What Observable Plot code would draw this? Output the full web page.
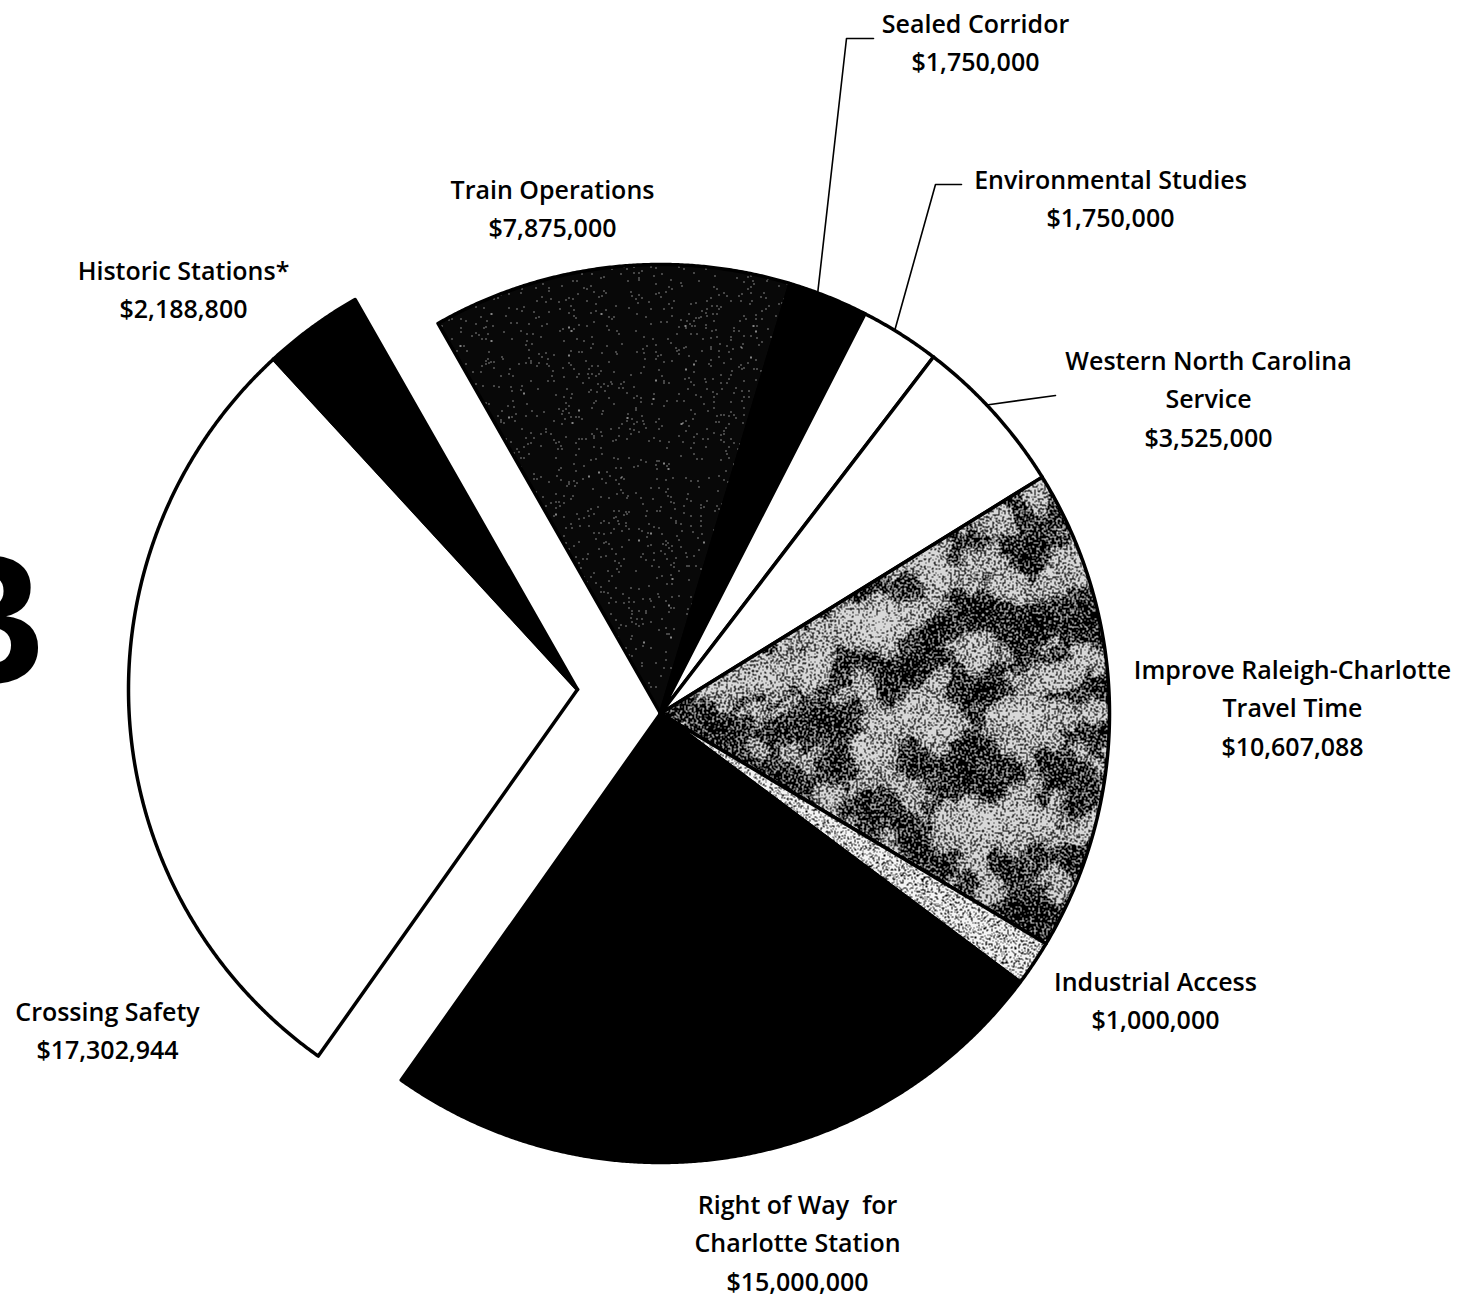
<!DOCTYPE html>
<html>
<head>
<meta charset="utf-8">
<script src="https://cdn.jsdelivr.net/npm/d3@7"></script>
<script src="https://cdn.jsdelivr.net/npm/@observablehq/plot@0.6"></script>
<style>
  html, body { margin: 0; padding: 0; background: #fff; }
  #chart svg { display: block; }
</style>
</head>
<body>
<svg width="0" height="0" style="position:absolute;left:0;top:0" aria-hidden="true">
  <defs>
    <filter id="fGray" x="0" y="0" width="1" height="1" color-interpolation-filters="sRGB">
      <feTurbulence type="fractalNoise" baseFrequency="0.5" numOctaves="2" seed="3" result="fine0"/>
      <feColorMatrix in="fine0" type="matrix" values="1 0 0 0 0  1 0 0 0 0  1 0 0 0 0  0 0 0 0 1" result="fine"/>
      <feTurbulence type="fractalNoise" baseFrequency="0.02" numOctaves="3" seed="8" result="coarse0"/>
      <feColorMatrix in="coarse0" type="matrix" values="1 0 0 0 0  1 0 0 0 0  1 0 0 0 0  0 0 0 0 1" result="coarse"/>
      <feComposite in="fine" in2="coarse" operator="arithmetic" k1="0" k2="1" k3="0.4" k4="-0.2" result="mix"/>
      <feColorMatrix in="mix" type="matrix" values="0 0 0 0 0  0 0 0 0 0  0 0 0 0 0  1 0 0 0 0" result="a"/>
      <feComponentTransfer in="a">
        <feFuncA type="discrete" tableValues="0 0 0 0 0 0 0 0 0 0 1 1 1 1 1 1 1 1 1 1"/>
      </feComponentTransfer>
    </filter>
    <filter id="fLight" x="0" y="0" width="1" height="1" color-interpolation-filters="sRGB">
      <feTurbulence type="fractalNoise" baseFrequency="0.55" numOctaves="2" seed="5" result="n"/>
      <feColorMatrix in="n" type="matrix" values="0 0 0 0 0  0 0 0 0 0  0 0 0 0 0  1 0 0 0 0" result="a"/>
      <feComponentTransfer in="a">
        <feFuncA type="discrete" tableValues="0 0 0 0 0 0 0 0 0 0 0 0 1 1 1 1 1 1 1 1"/>
      </feComponentTransfer>
    </filter>
    <filter id="fSpeck" x="0" y="0" width="1" height="1" color-interpolation-filters="sRGB">
      <feTurbulence type="fractalNoise" baseFrequency="0.6" numOctaves="2" seed="9" result="n"/>
      <feColorMatrix in="n" type="matrix" values="0 0 0 0 1  0 0 0 0 1  0 0 0 0 1  1 0 0 0 0" result="a"/>
      <feComponentTransfer in="a">
        <feFuncA type="discrete" tableValues="0 0 0 0 0 0 0 0 0 0 0 0 0 0 0 1 1 1 1 1"/>
      </feComponentTransfer>
    </filter>
    <pattern id="pGray" patternUnits="userSpaceOnUse" x="0" y="0" width="1480" height="1299">
      <rect width="1480" height="1299" fill="#d8d8d8"/>
      <rect width="1480" height="1299" fill="#000" filter="url(#fGray)"/>
    </pattern>
    <pattern id="pLight" patternUnits="userSpaceOnUse" x="0" y="0" width="1480" height="1299">
      <rect width="1480" height="1299" fill="#f4f4f4"/>
      <rect width="1480" height="1299" fill="#000" filter="url(#fLight)"/>
    </pattern>
    <pattern id="pTrain" patternUnits="userSpaceOnUse" x="0" y="0" width="1480" height="1299">
      <rect width="1480" height="1299" fill="#080808"/>
      <rect width="1480" height="1299" fill="#fff" filter="url(#fSpeck)"/>
    </pattern>
  </defs>
</svg>
<div id="chart"></div>
<script>
// ---------------- DATA ----------------
const categories = [
  "Train Operations",
  "Sealed Corridor",
  "Environmental Studies",
  "Western North Carolina Service",
  "Improve Raleigh-Charlotte Travel Time",
  "Industrial Access",
  "Right of Way for Charlotte Station",
  "Crossing Safety",
  "Historic Stations*"
];
const amounts = [7875000, 1750000, 1750000, 3525000, 10607088, 1000000, 15000000, 17302944, 2188800];
const labelLines = [
  ["Train Operations"],
  ["Sealed Corridor"],
  ["Environmental Studies"],
  ["Western North Carolina", "Service"],
  ["Improve Raleigh-Charlotte", "Travel Time"],
  ["Industrial Access"],
  ["Right of Way  for", "Charlotte Station"],
  ["Crossing Safety"],
  ["Historic Stations*"]
];
const explodedSlices = ["Crossing Safety", "Historic Stations*"];

// ---------------- LAYOUT / STYLE ----------------
const W = 1480, H = 1299;
const CX = 660, CY = 713, R = 449;
const START = -29.7 * Math.PI / 180;
const EXPLODE = [-83, -24];
const FONT = "Open Sans";
const FONT_SIZE = 25;
const FONT_WEIGHT = 600;
const LINE = 38.5;
const fills = {
  "Train Operations": "url(#pTrain)",
  "Sealed Corridor": "#000",
  "Environmental Studies": "#fff",
  "Western North Carolina Service": "#fff",
  "Improve Raleigh-Charlotte Travel Time": "url(#pGray)",
  "Industrial Access": "url(#pLight)",
  "Right of Way for Charlotte Station": "#000",
  "Crossing Safety": "#fff",
  "Historic Stations*": "#000"
};
// label anchor: [center x, first baseline y]
const labelPos = {
  "Train Operations": [552, 198],
  "Sealed Corridor": [975, 32],
  "Environmental Studies": [1110, 188],
  "Western North Carolina Service": [1208, 369],
  "Improve Raleigh-Charlotte Travel Time": [1292, 678],
  "Industrial Access": [1155, 990],
  "Right of Way for Charlotte Station": [797, 1213],
  "Crossing Safety": [107, 1020],
  "Historic Stations*": [183, 279]
};
// leader lines: fraction along the slice's arc, then elbow points
const leaders = [
  {key: "Sealed Corridor", frac: 0.36, pts: [[846, 38], [873, 38]]},
  {key: "Environmental Studies", frac: 0.42, pts: [[935, 184], [961, 184]]},
  {key: "Western North Carolina Service", frac: 0.44, pts: [[1055, 395]]}
];

// ---------------- BUILD ----------------
const table = categories.map((c, i) => ({key: c, amount: amounts[i]}));
const arcs = d3.pie().sort(null).value(d => d.amount)
  .startAngle(START).endAngle(START + 2 * Math.PI)(table);
const arcByKey = new Map(arcs.map(a => [a.data.key, a]));

const STEP = Math.PI / 720;
function slicePoints(a) {
  const [ox, oy] = explodedSlices.includes(a.data.key) ? EXPLODE : [0, 0];
  const cx = CX + ox, cy = CY + oy;
  const n = Math.max(2, Math.ceil((a.endAngle - a.startAngle) / STEP));
  const pts = [{x: cx, y: cy}];
  for (let k = 0; k <= n; k++) {
    const t = a.startAngle + (a.endAngle - a.startAngle) * k / n;
    pts.push({x: cx + R * Math.sin(t), y: cy - R * Math.cos(t)});
  }
  pts.push({x: cx, y: cy});
  return pts;
}

const sliceMarks = arcs.map(a => Plot.line(slicePoints(a), {
  x: "x", y: "y",
  fill: fills[a.data.key],
  stroke: "#000",
  strokeWidth: 3.5,
  strokeLinejoin: "round"
}));

const leaderData = leaders.flatMap(l => {
  const a = arcByKey.get(l.key);
  const t = a.startAngle + (a.endAngle - a.startAngle) * l.frac;
  const first = {key: l.key, x: CX + R * Math.sin(t), y: CY - R * Math.cos(t)};
  return [first, ...l.pts.map(([x, y]) => ({key: l.key, x, y}))];
});

const fmt = d3.format(",");
const textData = categories.flatMap((c, i) => {
  const lines = [...labelLines[i], "$" + fmt(amounts[i])];
  const [x, y0] = labelPos[c];
  return lines.map((t, j) => ({x, y: y0 + j * LINE, t}));
});

const chart = Plot.plot({
  width: W,
  height: H,
  margin: 0,
  x: {domain: [0, W], range: [0, W], axis: null},
  y: {domain: [0, H], range: [0, H], axis: null},
  style: {background: "#fff"},
  marks: [
    ...sliceMarks,
    Plot.line(leaderData, {x: "x", y: "y", z: "key", stroke: "#000", strokeWidth: 1.6}),
    Plot.text(textData, {
      x: "x", y: "y", text: "t",
      textAnchor: "middle", lineAnchor: "bottom",
      fontFamily: FONT, fontSize: FONT_SIZE, fontWeight: FONT_WEIGHT, fill: "#000"
    }),
    Plot.text([{x: 46, y: 683, t: "B"}], {
      x: "x", y: "y", text: "t",
      textAnchor: "end", lineAnchor: "bottom",
      fontFamily: "Liberation Sans", fontWeight: "bold", fontSize: 187, fill: "#000"
    })
  ]
});
document.getElementById("chart").appendChild(chart);
</script>
</body>
</html>
